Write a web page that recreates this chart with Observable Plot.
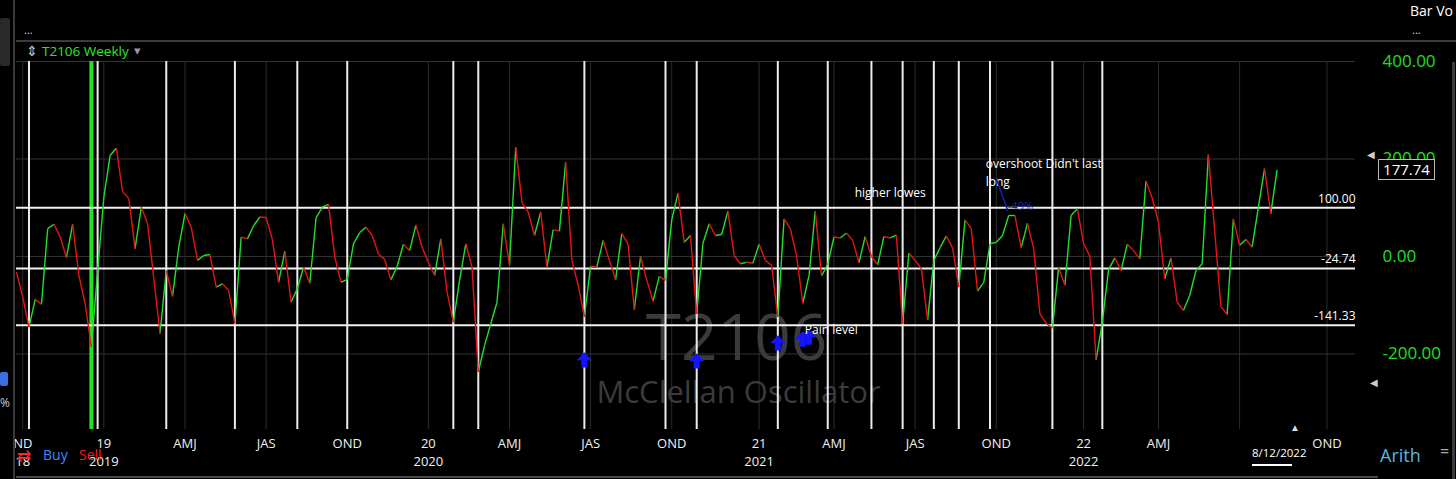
<!DOCTYPE html>
<html><head><meta charset="utf-8">
<script src="https://cdn.jsdelivr.net/npm/d3@7"></script>
<script src="https://cdn.jsdelivr.net/npm/@observablehq/plot@0.6"></script>
<style>
html,body{margin:0;padding:0;background:#000;overflow:hidden}
#wrap{position:relative;width:1456px;height:479px;font-family:"Open Sans","Noto Sans",sans-serif;color:#fff}
.abs{position:absolute;white-space:nowrap;line-height:1}
#wrap svg{position:absolute;left:0;top:0}
</style></head><body><div id="wrap"></div>
<script>
// ---- data (weekly McClellan Oscillator of T2106) ----
const startDate = "2018-09-28";
const oscValues = [
 -32,-83,-145,-88,-98,57,66,40,-2,66,
 -39,-97,-186,-30,122,207,222,133,119,16,
 101,68,-45,-158,-29,-82,19,88,60,-8,
 2,4,-63,-56,-70,-138,40,36,63,81,
 80,35,-53,11,-94,-66,-22,-55,79,101,
 107,-1,-53,-47,26,49,60,43,5,-6,
 -48,-20,25,12,64,19,-12,-39,36,-73,
 -135,-49,26,-22,-237,-183,-138,-94,67,-18,
 224,111,91,43,91,-22,55,52,193,-8,
 -59,-124,-20,-22,33,-8,-48,47,26,-109,
 0,-48,-92,-41,-49,75,130,29,43,-118,
 27,67,43,45,93,2,-15,-12,-14,25,
 -8,-18,-124,77,57,2,-96,-39,93,-40,
 -16,40,38,48,33,-13,41,0,-17,41,
 38,44,-138,7,-8,-25,-130,-8,18,42,
 18,-63,75,57,-71,-53,26,29,43,84,
 84,18,68,16,-118,-137,-147,-23,-59,84,
 98,27,0,-212,-135,-27,-3,-29,25,12,
 -5,155,120,70,-46,-3,-94,-111,-80,-29,
 -15,209,53,-103,-119,77,23,35,19,100,
 180,88,177.74
];
const levelValues = [100, -24.74, -141.33];
const axisValues = [400, 200, 0, -200];
const tickDates = ["2018-10-05","2019-01-04","2019-04-05","2019-07-05","2019-10-04","2020-01-03","2020-04-03","2020-07-03","2020-10-02","2021-01-08","2021-04-02","2021-07-02","2021-10-01","2022-01-07","2022-04-01","2022-07-01","2022-10-07"];
const tickLabels = ["ND","19","AMJ","JAS","OND","20","AMJ","JAS","OND","21","AMJ","JAS","OND","22","AMJ","","OND"];
const tickYears  = ["18","2019","","","","2020","","","","2021","","","","2022","","",""];
const whiteLineDates = ["2018-10-12","2018-12-28","2019-03-15","2019-05-31","2019-08-09","2019-10-04","2020-01-31","2020-02-28","2020-06-26","2020-09-25","2020-10-30","2021-01-29","2021-03-26","2021-05-14","2021-06-18","2021-07-23","2021-08-20","2021-09-24","2021-12-03","2022-01-28"];
const greenLineDates = ["2018-12-21"];
const arrowDates = ["2020-06-26","2020-10-30","2021-01-29","2021-02-26","2021-03-05"];
const arrowValues = [-213,-215,-178,-170,-166];
const noteTexts = ["higher lowes","Pain level","overshoot Didn't last","long"];
const noteDates = ["2021-04-23","2021-02-26","2021-09-17","2021-09-17"];
const noteValues = [129,-152,189,152];

// ---- build ----
const parse = d3.utcParse("%Y-%m-%d");
const d0 = parse(startDate);
const pts = oscValues.map((v,i)=>({date: d3.utcDay.offset(d0, 7*i), value: v}));
const segs = d3.pairs(pts).map(([a,b])=>({x1:a.date,y1:a.value,x2:b.date,y2:b.value,up:b.value>=a.value}));
const ticks = tickDates.map((d,i)=>({date: parse(d), label: tickLabels[i], year: tickYears[i]}));
const arrows = arrowDates.map((d,i)=>({date: parse(d), value: arrowValues[i]}));
const notes = noteTexts.map((t,i)=>({text:t, date: parse(noteDates[i]), value: noteValues[i]}));

const arrowSymbol = {draw(ctx, size){
  const s = Math.sqrt(size)/2;
  ctx.moveTo(0,-s*1.2); ctx.lineTo(s*1.15,0); ctx.lineTo(s*0.45,0); ctx.lineTo(s*0.45,s*1.1);
  ctx.lineTo(-s*0.45,s*1.1); ctx.lineTo(-s*0.45,0); ctx.lineTo(-s*1.15,0); ctx.closePath();
}};

const GREEN = "#22e02a", RED = "#e81414", FONT = "'Open Sans','Noto Sans',sans-serif";

const plot = Plot.plot({
  width: 1456, height: 479,
  marginTop: 61, marginBottom: 50, marginLeft: 16, marginRight: 101,
  style: {background: "#000", color: "#fff", fontFamily: FONT, overflow: "visible"},
  x: {type: "utc", domain: [d0, parse("2022-11-08")], axis: null},
  y: {domain: [-355, 400], axis: null},
  marks: [
    Plot.ruleY(axisValues, {stroke: "#333", strokeWidth: 1}),
    Plot.ruleX(ticks, {x: "date", stroke: "#2c2c2c", strokeWidth: 1}),
    Plot.text(["T2106"], {frameAnchor: "top-left", dx: 720, dy: 253, fill: "#3b3b3b", fontSize: 64, textAnchor: "middle", fontFamily: "'Open Sans',sans-serif"}),
    Plot.text(["McClellan Oscillator"], {frameAnchor: "top-left", dx: 722, dy: 319, fill: "#3b3b3b", fontSize: 31, textAnchor: "middle"}),
    Plot.ruleX(whiteLineDates.map(parse), {stroke: "#ececec", strokeWidth: 2}),
    Plot.ruleX(greenLineDates.map(parse), {stroke: "#1fe51f", strokeWidth: 4}),
    Plot.ruleY(levelValues, {stroke: "#f2f2f2", strokeWidth: 2}),
    Plot.text(levelValues, {y: d=>d, frameAnchor: "right", text: d=>d.toFixed(2), dy: -9, textAnchor: "end", fill: "#fff", fontSize: 12}),
    Plot.link(segs.filter(d=>d.up), {x1:"x1", y1:"y1", x2:"x2", y2:"y2", stroke: GREEN, strokeWidth: 1.4}),
    Plot.link(segs.filter(d=>!d.up), {x1:"x1", y1:"y1", x2:"x2", y2:"y2", stroke: RED, strokeWidth: 1.4}),
    Plot.dot(arrows, {x: "date", y: "value", symbol: arrowSymbol, r: 7.5, fill: "#1414ff", stroke: null}),
    Plot.text(notes, {x: "date", y: "value", text: "text", textAnchor: "start", dx: 2, fill: "#fff", fontSize: 12}),
    Plot.link([{a: parse("2021-10-01"), b: parse("2021-10-14")}], {x1: "a", x2: "b", y1: ()=>160, y2: ()=>94, stroke: "#1a1aa8", strokeWidth: 1.6}),
    Plot.text(["-49%"], {x: ()=>parse("2021-10-14"), y: ()=>103, textAnchor: "start", fill: "#2323b0", fontSize: 11}),
    Plot.text(ticks, {x: "date", text: "label", frameAnchor: "bottom", dy: 18, fill: "#f0f0f0", fontSize: 13}),
    Plot.text(ticks, {x: "date", text: "year", frameAnchor: "bottom", dy: 36, fill: "#f0f0f0", fontSize: 13}),
    Plot.text(axisValues, {y: d=>d, frameAnchor: "right", text: d=>d.toFixed(2), dx: 27, textAnchor: "start", fill: "#1fe01f", fontSize: 17})
  ]
});
const wrap = document.getElementById("wrap");
wrap.appendChild(plot);

const ys = plot.scale("y");
const last = pts[pts.length-1];
function add(html, style){ const d = document.createElement("div"); d.className="abs"; d.innerHTML = html; Object.assign(d.style, style); wrap.appendChild(d); return d; }
// chrome lines
add("", {left:"16px", top:"40px", width:"1440px", height:"2px", background:"#3c3c3c"});
add("", {left:"13px", top:"0px", width:"2px", height:"479px", background:"#3a3a3a"});
add("", {left:"0px", top:"18px", width:"10px", height:"48px", background:"#2a2a2a", borderRadius:"2px"});
add("", {left:"0px", top:"372px", width:"8px", height:"14px", background:"#3a6fe0", borderRadius:"2px"});
add("%", {left:"0px", top:"397px", fontSize:"12px", color:"#ccc"});
add("", {left:"1452px", top:"62px", width:"3px", height:"417px", background:"#3a3a3a"});
add("", {left:"16px", top:"476px", width:"1362px", height:"2px", background:"#4a4a4a"});
// header
add("...", {left:"24px", top:"24px", fontSize:"11px", color:"#ddd"});
add("Bar Vo", {left:"1410px", top:"4px", fontSize:"14px", color:"#fff"});
add("...", {left:"1412px", top:"24px", fontSize:"11px", color:"#ddd"});
add("&#x21D5;", {left:"26px", top:"44px", fontSize:"14px", color:"#ccc"});
add("T2106 Weekly", {left:"42px", top:"45px", fontSize:"13.5px", color:"#2ee62e"});
add("&#x25BE;", {left:"134px", top:"44px", fontSize:"13px", color:"#999"});
// footer
add("&#x21C4;", {left:"17px", top:"447px", fontSize:"17px", color:"#e83030"});
add("Buy", {left:"43px", top:"448px", fontSize:"14px", color:"#3b8bff"});
add("Sell", {left:"79px", top:"448px", fontSize:"14px", color:"#ff1a1a"});
add("8/12/2022", {left:"1252px", top:"447px", fontSize:"11.5px", color:"#fff"});
add("", {left:"1252px", top:"464px", width:"40px", height:"2px", background:"#fff"});
add("&#x25B2;", {left:"1290px", top:"422px", fontSize:"10px", color:"#ddd"});
add("Arith", {left:"1380px", top:"446px", fontSize:"18px", color:"#5ab4e6"});
add("=", {left:"1440px", top:"443px", fontSize:"16px", color:"#aaa"});
// right-side markers
add("&#x25C0;", {left:"1367px", top:(ys.apply(200)-9)+"px", fontSize:"10px", color:"#ccc"});
add("&#x25C0;", {left:"1370px", top:"377px", fontSize:"10px", color:"#ccc"});
// last value box
const ly = ys.apply(last.value);
add(last.value.toFixed(2), {left:"1378px", top:(ly-10)+"px", width:"55px", height:"19px", lineHeight:"19px", textAlign:"center", fontSize:"15px", color:"#fff", background:"#000", border:"1px solid #bbb"});
</script></body></html>
